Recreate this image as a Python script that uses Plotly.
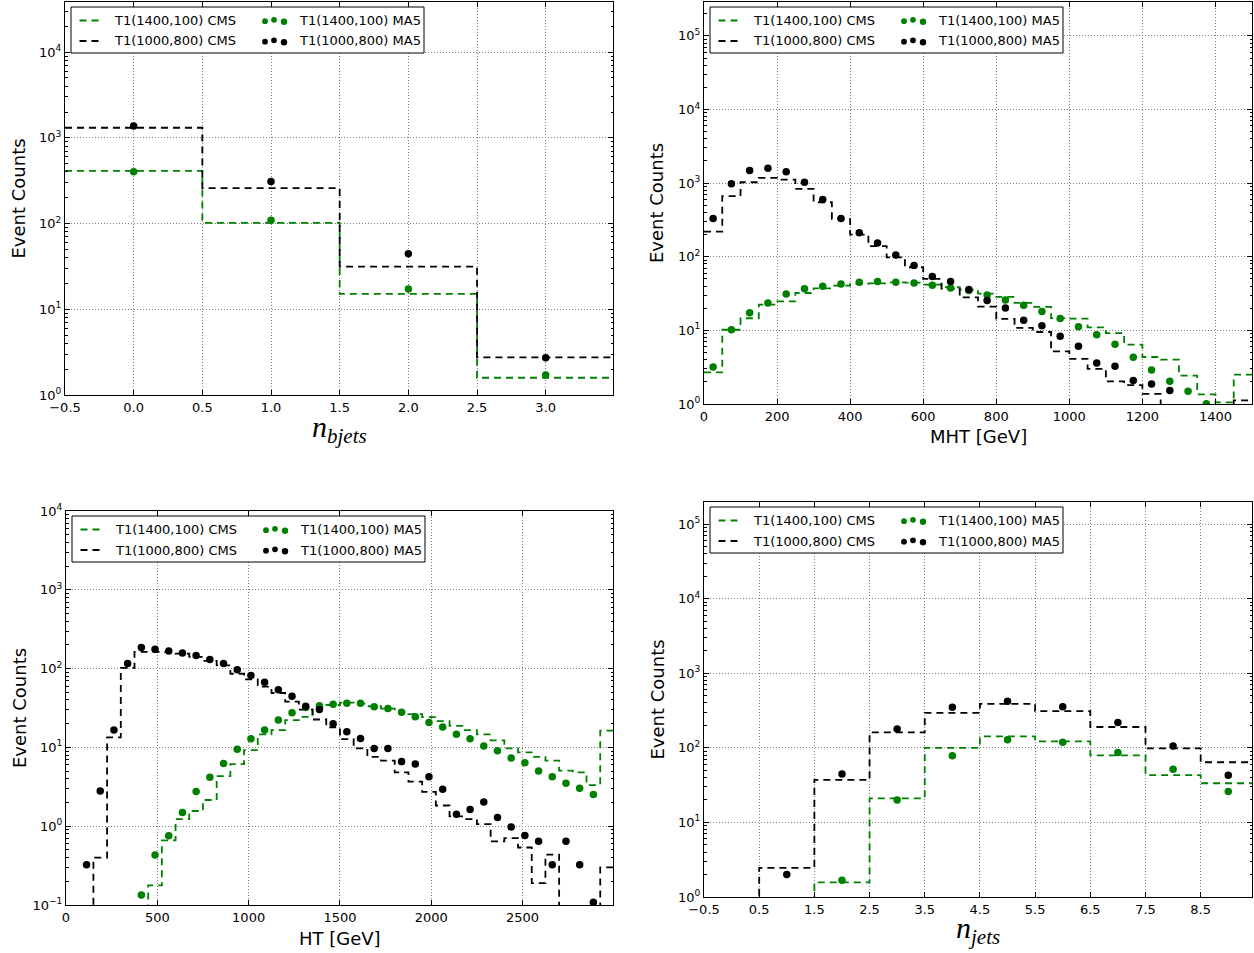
import numpy as np
import plotly.graph_objects as go

W, H = 1254, 953

GREEN = "#008000"
BLACK = "#000000"
FONT = "DejaVu Sans"

# ---------------- n_bjets ----------------
nb_edges = [-0.5, 0.5, 1.5, 2.5, 3.5]
nb_centers = [0, 1, 2, 3]
nb_cms_1400 = [413, 102, 15.1, 1.59]
nb_cms_1000 = [1312, 259, 31.4, 2.75]
nb_ma5_1400 = [402, 109, 17.2, 1.71]
nb_ma5_1000 = [1371, 310, 44.5, 2.72]

# ---------------- MHT (50 GeV bins) ----------------
mht_edges = list(range(0, 1501, 50))
mht_centers = [e + 25 for e in mht_edges[:-1]]
mht_cms_1400 = [2.69, 10.2, 14.6, 22.4, 24.8, 32.2, 37.3, 40.5, 42.7, 43.6,
                45.0, 44.5, 41.9, 38.5, 35.8, 31.6, 28.5, 23.6, 20.8, 14.7,
                14.4, 11.0, 9.2, 6.4, 4.35, 4.0, 2.43, 1.35, 1.05, 2.5]
mht_cms_1000 = [220, 664, 1028, 1178, 1119, 836, 550, 327, 200, 139,
                98, 72, 50, 37, 28, 21, 14.3, 10.8, 9.5, 5.2,
                4.1, 3.0, 2.03, 1.81, 1.37, 0, 0, 0, 0, 1.12]
mht_ma5_1400 = [3.18, 10.2, 17.3, 23.6, 31.3, 36.9, 39.7, 42.7, 45.0, 46.0,
                45.0, 44.0, 41.0, 37.7, 34.7, 30.3, 25.9, 21.9, 18.0, 14.5,
                11.2, 8.7, 6.5, 4.3, 2.9, 2.03, 1.49, 1.01, 0, 0]
mht_ma5_1000 = [330, 977, 1483, 1595, 1422, 1028, 598, 330, 211, 154,
                106, 76, 54, 46, 35.8, 25.4, 20.2, 13.7, 11.6, 8.3,
                6.1, 3.6, 3.25, 2.08, 1.87, 1.53, 0, 0, 0, 0]

# ---------------- HT (75 GeV bins) ----------------
ht_edges = list(range(75, 3001, 75))
ht_centers = [e + 37.5 for e in ht_edges[:-1]]
ht_cms_1400 = [0, 0, 0, 0, 0, 0.177, 0.66, 1.23, 1.56, 2.15,
               4.33, 6.15, 9.25, 14.6, 16.6, 22.2, 24.4, 32.0, 34.5, 37.0,
               36.0, 33.3, 31.0, 28.3, 26.4, 24.2, 21.5, 18.8, 16.6, 14.6,
               12.3, 9.7, 8.65, 7.6, 6.8, 5.07, 4.83, 3.33, 16.3]
ht_cms_1000 = [0, 0.40, 13.4, 102, 163, 163, 162, 155, 141, 125,
               110, 86, 73, 59, 49, 38, 30.2, 22.6, 18.0, 12.7,
               9.7, 7.6, 6.8, 4.83, 3.67, 2.72, 1.83, 1.33, 1.23, 1.06,
               0.64, 0.705, 0.537, 0.19, 0.437, 0, 0, 0, 0.30]
ht_ma5_1400 = [0, 0, 0, 0, 0.134, 0.43, 0.755, 1.49, 2.75, 4.17,
               6.27, 9.44, 12.9, 16.6, 22.2, 27.5, 32.0, 33.7, 35.4, 36.4,
               36.4, 32.7, 31.2, 28.0, 24.4, 20.7, 18.1, 14.7, 12.9, 10.4,
               9.07, 7.33, 6.4, 5.01, 4.25, 3.50, 3.03, 2.52, 0]
ht_ma5_1000 = [0.324, 2.80, 16.6, 116, 185, 176, 167, 158, 147, 130,
               116, 97, 82, 67, 54, 44.7, 33.4, 30.3, 19.9, 15.8,
               13.0, 9.7, 9.7, 6.6, 6.15, 4.25, 2.94, 1.42, 1.63, 2.03,
               1.29, 0.98, 0.76, 0.646, 0.324, 0.646, 0.324, 0.108, 0]

# ---------------- n_jets ----------------
nj_edges = [i - 0.5 for i in range(11)]
nj_centers = list(range(10))
nj_cms_1400 = [0, 0, 1.57, 21, 100, 142, 122, 79, 43, 33.5]
nj_cms_1000 = [0, 2.45, 37.1, 161, 293, 387, 311, 190, 98, 64]
nj_ma5_1400 = [0, 0, 1.68, 20, 78, 128, 119, 86.5, 51.6, 25.9]
nj_ma5_1000 = [0, 2.0, 44.7, 178, 349, 420, 356, 219, 106, 43]

LABEL_1400_CMS = "T1(1400,100) CMS"
LABEL_1000_CMS = "T1(1000,800) CMS"
LABEL_1400_MA5 = "T1(1400,100) MA5"
LABEL_1000_MA5 = "T1(1000,800) MA5"

# axes frames in pixels: left, top, right, bottom
frames = {
    1: (65, 2, 613, 395),
    2: (704, 2, 1252, 404),
    3: (66, 511, 613, 905),
    4: (704, 502, 1252, 897),
}


def px(x):
    return x / W


def py(y):
    return 1 - y / H


def step_xy(edges, vals):
    # empty bins are pushed far below the log range so the step drops off the axis
    v = [x if x > 0 else 1e-6 for x in vals]
    return list(edges), v + [v[-1]]


def pts(vals):
    return [x if x > 0 else None for x in vals]


fig = go.Figure()

panels = [
    (1, nb_edges, nb_centers, nb_cms_1400, nb_cms_1000, nb_ma5_1400, nb_ma5_1000),
    (2, mht_edges, mht_centers, mht_cms_1400, mht_cms_1000, mht_ma5_1400, mht_ma5_1000),
    (3, ht_edges, ht_centers, ht_cms_1400, ht_cms_1000, ht_ma5_1400, ht_ma5_1000),
    (4, nj_edges, nj_centers, nj_cms_1400, nj_cms_1000, nj_ma5_1400, nj_ma5_1000),
]

for k, edges, centers, c14, c10, m14, m10 in panels:
    xa = "x" if k == 1 else f"x{k}"
    ya = "y" if k == 1 else f"y{k}"
    for vals, col, name in ((c14, GREEN, LABEL_1400_CMS), (c10, BLACK, LABEL_1000_CMS)):
        sx, sy = step_xy(edges, vals)
        fig.add_trace(go.Scatter(
            x=sx, y=sy, mode="lines", line_shape="hv", name=name,
            line=dict(color=col, width=1.8, dash="7px,5px"),
            xaxis=xa, yaxis=ya, showlegend=False, hoverinfo="skip"))
    for vals, col, name in ((m14, GREEN, LABEL_1400_MA5), (m10, BLACK, LABEL_1000_MA5)):
        fig.add_trace(go.Scatter(
            x=centers, y=pts(vals), mode="markers", name=name,
            marker=dict(color=col, size=7.5, line=dict(width=0)),
            xaxis=xa, yaxis=ya, showlegend=False))

# ---------------- axes ----------------
x_specs = {
    1: dict(range=[-0.5, 3.49], tickvals=[-0.5, 0, 0.5, 1, 1.5, 2, 2.5, 3],
            ticktext=["\u22120.5", "0.0", "0.5", "1.0", "1.5", "2.0", "2.5", "3.0"]),
    2: dict(range=[0, 1500], tickvals=list(range(0, 1401, 200)),
            ticktext=[str(v) for v in range(0, 1401, 200)]),
    3: dict(range=[0, 2995], tickvals=list(range(0, 2501, 500)),
            ticktext=[str(v) for v in range(0, 2501, 500)]),
    4: dict(range=[-0.5, 9.43], tickvals=[i - 0.5 for i in range(10)],
            ticktext=["\u22120.5"] + [f"{i - 0.5:.1f}" for i in range(1, 10)]),
}
y_specs = {
    1: ([0, 4.585], range(0, 5)),
    2: ([0, 5.46], range(0, 6)),
    3: ([-1, 4], range(-1, 5)),
    4: ([0, 5.295], range(0, 6)),
}


def exp_label(e):
    return "10<sup>" + ("\u2212" if e < 0 else "") + str(abs(e)) + "</sup>"


common = dict(
    showline=True, linecolor="black", linewidth=1, mirror="ticks",
    ticks="inside", ticklen=5, tickwidth=1, tickcolor="black",
    showgrid=True, gridcolor="#808080", griddash="1px,2px", gridwidth=1,
    zeroline=False, automargin=False,
    tickfont=dict(family=FONT, size=13, color="black"),
)

layout_axes = {}
for k, (L, T, R, B) in frames.items():
    xs = "xaxis" if k == 1 else f"xaxis{k}"
    ys = "yaxis" if k == 1 else f"yaxis{k}"
    xa = "x" if k == 1 else f"x{k}"
    ya = "y" if k == 1 else f"y{k}"
    xd = dict(common)
    xd.update(x_specs[k])
    xd.update(domain=[px(L), px(R)], anchor=ya, tickmode="array")
    yr, exps = y_specs[k]
    yd = dict(common)
    yd.update(type="log", range=yr, domain=[py(B), py(T)], anchor=xa,
              tickmode="array", tickvals=[10.0 ** e for e in exps],
              ticktext=[exp_label(e) for e in exps],
              minor=dict(ticks="inside", ticklen=2.5, tickwidth=1,
                         tickcolor="black", dtick="D1", showgrid=False))
    layout_axes[xs] = xd
    layout_axes[ys] = yd

fig.update_layout(**layout_axes)

# ---------------- axis titles ----------------
ann = []
shapes = []
title_font = dict(family=FONT, size=18, color="black")
math_font = dict(family="Liberation Serif", size=30, color="black")

x_titles = {
    1: ("<i>n</i><sub><i>bjets</i></sub>", math_font, 429),
    2: ("MHT [GeV]", title_font, 437),
    3: ("HT [GeV]", title_font, 938),
    4: ("<i>n</i><sub><i>jets</i></sub>", math_font, 930),
}
for k, (L, T, R, B) in frames.items():
    ann.append(dict(text="Event Counts", xref="paper", yref="paper",
                    x=px(L - 47), y=py((T + B) / 2), textangle=-90,
                    showarrow=False, font=title_font,
                    xanchor="center", yanchor="middle"))
    txt, fnt, yc = x_titles[k]
    ann.append(dict(text=txt, xref="paper", yref="paper",
                    x=px((L + R) / 2), y=py(yc), showarrow=False, font=fnt,
                    xanchor="center", yanchor="middle"))

# ---------------- legends (two columns, matplotlib style) ----------------
leg_font = dict(family=FONT, size=13, color="black")
entries = [
    (0, 0, "line", GREEN, LABEL_1400_CMS),
    (0, 1, "line", BLACK, LABEL_1000_CMS),
    (1, 0, "dots", GREEN, LABEL_1400_MA5),
    (1, 1, "dots", BLACK, LABEL_1000_MA5),
]
for k, (L, T, R, B) in frames.items():
    bx0, by0 = L + 6, T + 5
    bx1, by1 = bx0 + 353, by0 + 46
    shapes.append(dict(type="rect", xref="paper", yref="paper",
                       x0=px(bx0), x1=px(bx1), y0=py(by1), y1=py(by0),
                       line=dict(color="black", width=1), fillcolor="white",
                       layer="above"))
    for col, row, kind, color, label in entries:
        yc = by0 + 13.5 + 20.5 * row
        if kind == "line":
            shapes.append(dict(type="line", xref="paper", yref="paper",
                               x0=px(bx0 + 8.5), x1=px(bx0 + 28), y0=py(yc), y1=py(yc),
                               line=dict(color=color, width=1.8, dash="7px,5px"),
                               layer="above"))
            tx = bx0 + 41
        else:
            for dx, dy, r in ((194, 0.7, 2.9), (203, -0.7, 2.9), (213, 1.3, 3.2)):
                shapes.append(dict(type="circle", xref="paper", yref="paper",
                                   x0=px(bx0 + dx - r), x1=px(bx0 + dx + r),
                                   y0=py(yc + dy + r), y1=py(yc + dy - r),
                                   line=dict(width=0), fillcolor=color,
                                   layer="above"))
            tx = bx0 + 226
        ann.append(dict(text=label, xref="paper", yref="paper",
                        x=px(tx), y=py(yc), showarrow=False, font=leg_font,
                        xanchor="left", yanchor="middle"))

fig.update_layout(
    template="none",
    width=W, height=H,
    margin=dict(l=0, r=0, t=0, b=0, autoexpand=False),
    paper_bgcolor="white", plot_bgcolor="white",
    showlegend=False,
    annotations=ann, shapes=shapes,
    font=dict(family=FONT, color="black"),
)

# the page gets no body margin so the 1254x953 figure fills the window exactly
fig.write_html("out.html",
               post_script="document.body.style.margin='0px';document.body.style.overflow='hidden';")
